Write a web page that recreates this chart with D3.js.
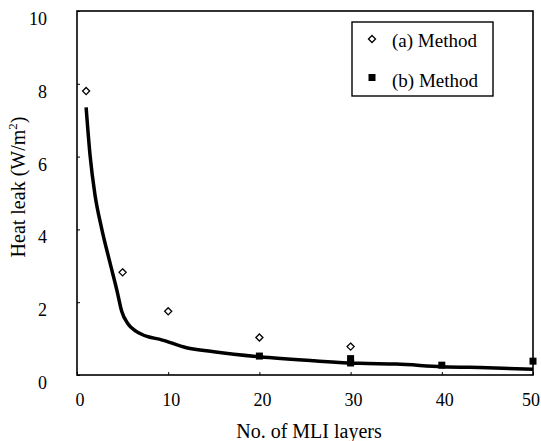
<!DOCTYPE html>
<html><head><meta charset="utf-8">
<script src="https://cdn.jsdelivr.net/npm/d3@7"></script>
<style>body{margin:0;background:#fff}svg{display:block}text{font-family:"Liberation Serif","Times New Roman",serif;fill:#000}</style>
</head><body><svg id="c" width="541" height="441"></svg>
<script>
const xTicks=[0,10,20,30,40,50];
const yTicks=[0,2,4,6,8,10];
const aX=[1,5,10,20,30];
const aY=[7.8,2.82,1.75,1.03,0.78];
const bX=[20,30,30,40,50];
const bY=[0.52,0.45,0.33,0.27,0.38];
const fitX=[1,1.43,1.97,2.7,3.6,4.4,4.9,5.6,6.5,7.8,9.1,12,15,20,26,31,35,40,45,50];
const fitY=[7.35,6.04,4.95,4.03,3.1,2.3,1.75,1.4,1.2,1.05,0.98,0.75,0.64,0.5,0.39,0.32,0.3,0.23,0.2,0.16];
const legendLabels=["(a) Method","(b) Method"];

const svg=d3.select("#c");
const L=77,R=533,T=11,B=375;
const x=d3.scaleLinear().domain([0,50]).range([L,R]);
const y=d3.scaleLinear().domain([0,10]).range([B,T]);

// frame
svg.append("rect").attr("x",L).attr("y",T).attr("width",R-L).attr("height",B-T)
  .attr("fill","none").attr("stroke","#000").attr("stroke-width",1.6);

// y axis
const ya=svg.append("g").attr("transform",`translate(${L},0)`)
  .call(d3.axisRight(y).tickValues(yTicks).tickSize(3).tickFormat(""));
ya.select(".domain").remove();
ya.selectAll("line").attr("stroke","#000");
svg.append("g").selectAll("text").data(yTicks).join("text")
  .attr("x",47).attr("y",d=>y(d)+14).attr("text-anchor","end")
  .attr("font-size",18).text(d=>d);

// x axis
const xa=svg.append("g").attr("transform",`translate(0,${B})`)
  .call(d3.axisTop(x).tickValues(xTicks).tickSize(3).tickFormat(""));
xa.select(".domain").remove();
xa.selectAll("line").attr("stroke","#000");
svg.append("g").selectAll("text").data(xTicks).join("text")
  .attr("x",d=>Math.min(x(d)+3,531)).attr("y",406).attr("text-anchor","middle")
  .attr("font-size",18).text(d=>d);

svg.append("text").attr("x",309).attr("y",438).attr("text-anchor","middle")
  .attr("font-size",20).text("No. of MLI layers");
const yt=svg.append("text").attr("transform","translate(25,187) rotate(-90)")
  .attr("text-anchor","middle").attr("font-size",20);
yt.append("tspan").text("Heat leak (W/m");
yt.append("tspan").attr("dy",-8).attr("font-size",13).text("2");
yt.append("tspan").attr("dy",8).text(")");

// fit line
const fit=fitX.map((d,i)=>[d,fitY[i]]);
svg.append("path").datum(fit)
  .attr("d",d3.line().x(d=>x(d[0])).y(d=>y(d[1])).curve(d3.curveMonotoneX))
  .attr("fill","none").attr("stroke","#000").attr("stroke-width",3.5).attr("stroke-linejoin","round");

// diamonds
const dia=d3.symbol().type(d3.symbolDiamond2).size(32);
svg.append("g").selectAll("path").data(aX.map((d,i)=>[d,aY[i]])).join("path")
  .attr("transform",d=>`translate(${x(d[0])},${y(d[1])})`).attr("d",dia)
  .attr("fill","#fff").attr("stroke","#000").attr("stroke-width",1.3);
// squares
svg.append("g").selectAll("rect").data(bX.map((d,i)=>[d,bY[i]])).join("rect")
  .attr("x",d=>x(d[0])-3.5).attr("y",d=>y(d[1])-3.5).attr("width",7).attr("height",7)
  .attr("fill","#000");

// legend
const lg=svg.append("g");
lg.append("rect").attr("x",352).attr("y",22).attr("width",141).attr("height",74)
  .attr("fill","#fff").attr("stroke","#000").attr("stroke-width",1.4);
lg.append("path").attr("transform","translate(372,39)").attr("d",dia)
  .attr("fill","#fff").attr("stroke","#000").attr("stroke-width",1.3);
lg.append("rect").attr("x",368.5).attr("y",74).attr("width",7).attr("height",7).attr("fill","#000");
lg.selectAll("text.l").data(legendLabels).join("text").attr("class","l")
  .attr("x",392).attr("y",(d,i)=>i?87:47).attr("font-size",19).text(d=>d);
</script></body></html>
